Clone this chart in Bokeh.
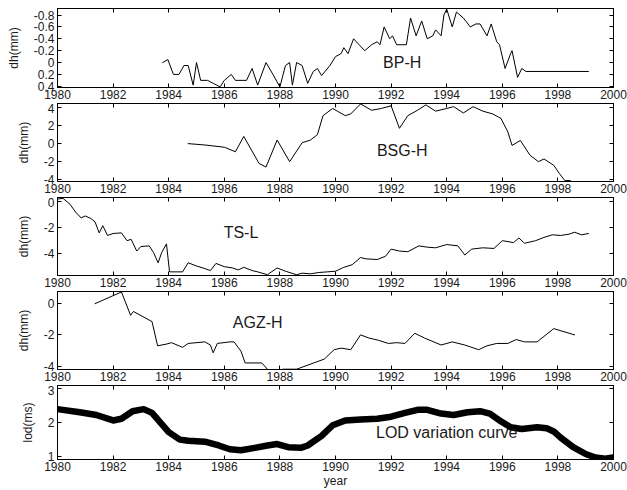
from bokeh.plotting import figure
from bokeh.layouts import column
from bokeh.models import Range1d, FixedTicker, LinearAxis, Label
from bokeh.embed import file_html
from bokeh.resources import INLINE

FONT = "Liberation Sans"

# ---------------- data ----------------
x_ticks = [1980, 1982, 1984, 1986, 1988, 1990, 1992, 1994, 1996, 1998, 2000]
x_tick_labels = ["1980", "1982", "1984", "1986", "1988", "1990", "1992", "1994", "1996", "1998", "2000"]

bp_year = [1983.78, 1983.97, 1984.17, 1984.37, 1984.55, 1984.7, 1984.88, 1985.0, 1985.15, 1985.4,
           1985.6, 1985.85, 1986.0, 1986.25, 1986.4, 1986.8, 1987.0, 1987.2, 1987.5, 1987.75,
           1988.0, 1988.2, 1988.35, 1988.45, 1988.6, 1988.8, 1989.0, 1989.2, 1989.35, 1989.5,
           1989.8, 1990.0, 1990.2, 1990.3, 1990.45, 1990.65, 1990.85, 1991.05, 1991.3, 1991.5,
           1991.6, 1991.75, 1991.95, 1992.05, 1992.2, 1992.55, 1992.7, 1992.9, 1993.1, 1993.3,
           1993.5, 1993.6, 1993.8, 1993.9, 1994.0, 1994.2, 1994.35, 1994.6, 1994.85, 1995.05,
           1995.2, 1995.45, 1995.6, 1995.8, 1995.9, 1996.1, 1996.3, 1996.35, 1996.55, 1996.7,
           1996.85, 1999.1]
bp_dh = [0.0, -0.05, 0.2, 0.2, 0.05, 0.05, 0.38, 0.0, 0.3, 0.3,
         0.35, 0.41, 0.3, 0.2, 0.3, 0.3, 0.1, 0.38, 0.0, 0.2,
         0.41, 0.05, 0.0, 0.38, 0.0, 0.05, 0.35, 0.15, 0.1, 0.22,
         0.05, -0.1, -0.15, -0.25, -0.15, -0.4, -0.3, -0.2, -0.3, -0.35,
         -0.3, -0.6, -0.4, -0.45, -0.3, -0.3, -0.75, -0.45, -0.7, -0.4,
         -0.45, -0.55, -0.45, -0.8, -0.9, -0.6, -0.85, -0.75, -0.6, -0.65,
         -0.65, -0.45, -0.65, -0.35, -0.3, 0.1, -0.15, -0.2, 0.25, 0.1,
         0.15, 0.15]
bp_ticks = [-0.8, -0.6, -0.4, -0.2, 0, 0.2, 0.4]
bp_tick_labels = ["-0.8", "-0.6", "-0.4", "-0.2", "0", "0.2", "0.4"]

bsg_year = [1984.7, 1985.3, 1986.0, 1986.4, 1986.7, 1987.25, 1987.5, 1987.9, 1988.35, 1988.8,
            1989.1, 1989.35, 1989.55, 1989.9, 1990.35, 1990.55, 1990.9, 1991.3, 1991.65, 1992.0,
            1992.3, 1992.6, 1992.95, 1993.25, 1993.6, 1994.0, 1994.25, 1994.6, 1994.95, 1995.3,
            1995.65, 1995.95, 1996.2, 1996.35, 1996.65, 1997.0, 1997.3, 1997.5, 1997.85, 1998.05,
            1998.25, 1998.45]
bsg_dh = [0.0, -0.15, -0.4, -0.9, 0.8, -2.2, -2.6, 0.4, -2.0, 0.1,
          0.4, 1.0, 3.1, 3.9, 3.1, 3.3, 4.4, 3.7, 3.9, 4.2,
          1.7, 3.1, 3.7, 4.3, 3.6, 3.9, 4.1, 3.4, 4.1, 3.6,
          3.3, 2.8, 1.3, -0.2, 0.35, -1.3, -2.0, -1.7, -2.4, -3.3,
          -4.1, -4.1]
bsg_ticks = [-4, -2, 0, 2, 4]
bsg_tick_labels = ["-4", "-2", "0", "2", "4"]

ts_year = [1980.0, 1980.2, 1980.45, 1980.65, 1980.85, 1981.0, 1981.2, 1981.35, 1981.5, 1981.63,
           1981.8, 1982.0, 1982.3, 1982.5, 1982.65, 1982.85, 1983.0, 1983.3, 1983.45, 1983.62,
           1983.75, 1983.92, 1984.03, 1984.5, 1984.7, 1985.0, 1985.3, 1985.5, 1985.7, 1986.0,
           1986.3, 1986.5, 1986.7, 1987.0, 1987.2, 1987.55, 1987.9, 1988.2, 1988.6, 1988.8,
           1989.1, 1989.4, 1989.7, 1990.0, 1990.3, 1990.6, 1990.9, 1991.1, 1991.5, 1991.8,
           1992.0, 1992.3, 1992.6, 1993.0, 1993.3, 1993.6, 1994.0, 1994.4, 1994.65, 1994.9,
           1995.3, 1995.7, 1996.0, 1996.4, 1996.6, 1996.8, 1997.2, 1997.5, 1997.8, 1998.1,
           1998.4, 1998.6, 1998.85, 1999.1]
ts_dh = [0.2, 0.25, -0.2, -0.8, -1.25, -1.1, -1.3, -1.55, -2.4, -1.85,
         -2.6, -2.45, -2.4, -3.0, -2.9, -3.8, -3.45, -3.4, -3.9, -4.7,
         -3.9, -3.25, -5.4, -5.4, -4.7, -4.95, -5.15, -5.3, -4.75, -5.0,
         -5.1, -5.25, -5.05, -5.3, -5.4, -5.62, -5.1, -5.35, -5.62, -5.5,
         -5.55, -5.45, -5.4, -5.35, -5.05, -4.85, -4.3, -4.4, -4.45, -4.2,
         -3.65, -3.8, -3.85, -3.4, -3.5, -3.55, -3.3, -3.4, -4.1, -3.65,
         -3.55, -3.6, -3.0, -3.15, -2.8, -3.2, -3.0, -2.75, -2.55, -2.6,
         -2.5, -2.35, -2.55, -2.45]
ts_ticks = [-4, -2, 0]
ts_tick_labels = ["-4", "-2", "0"]

agz_year = [1981.35, 1982.3, 1982.63, 1982.73, 1983.4, 1983.6, 1983.9, 1984.1, 1984.5, 1984.7,
            1985.3, 1985.5, 1985.6, 1985.75, 1986.2, 1986.35, 1986.6, 1986.75, 1987.35, 1987.55,
            1987.65, 1988.05, 1988.1, 1988.6, 1989.6, 1989.95, 1990.2, 1990.55, 1990.9, 1991.2,
            1991.55, 1991.9, 1992.2, 1992.5, 1992.85, 1993.2, 1993.8, 1994.2, 1994.65, 1995.15,
            1995.45, 1995.8, 1996.2, 1996.5, 1996.8, 1997.25, 1997.85, 1998.6]
agz_dh = [0.0, 0.75, -0.75, -0.5, -1.15, -2.7, -2.6, -2.5, -2.8, -2.55,
          -2.45, -2.65, -3.15, -2.55, -2.45, -2.45, -3.05, -3.8, -3.8, -4.2,
          -4.35, -4.35, -4.2, -4.2, -3.55, -2.95, -2.85, -2.95, -2.0, -2.2,
          -2.35, -2.55, -2.5, -2.55, -1.9, -2.2, -2.65, -2.45, -2.65, -2.95,
          -2.7, -2.55, -2.55, -2.3, -2.45, -2.45, -1.6, -2.0]
agz_ticks = [-4, -2, 0]
agz_tick_labels = ["-4", "-2", "0"]

lod_year = [1980.0, 1980.8, 1981.4, 1982.0, 1982.3, 1982.7, 1983.1, 1983.4, 1984.0, 1984.4,
            1984.7, 1985.3, 1985.8, 1986.2, 1986.6, 1987.1, 1987.55, 1987.9, 1988.3, 1988.75,
            1989.0, 1989.5, 1989.9, 1990.35, 1990.9, 1991.5, 1992.0, 1992.5, 1992.95, 1993.3,
            1993.8, 1994.25, 1994.75, 1995.2, 1995.55, 1995.9, 1996.3, 1996.7, 1997.25, 1997.6,
            1997.85, 1998.1, 1998.55, 1999.0, 1999.35, 1999.7, 2000.0]
lod_ms = [2.39, 2.3, 2.22, 2.06, 2.11, 2.33, 2.39, 2.28, 1.72, 1.5,
          1.47, 1.44, 1.33, 1.22, 1.19, 1.26, 1.33, 1.37, 1.28, 1.26,
          1.33, 1.61, 1.92, 2.06, 2.09, 2.11, 2.17, 2.28, 2.37, 2.37,
          2.26, 2.22, 2.3, 2.33, 2.26, 2.06, 1.86, 1.81, 1.86, 1.83,
          1.74, 1.56, 1.28, 1.08, 0.98, 0.94, 0.98]
lod_ticks = [1, 2, 3]
lod_tick_labels = ["1", "2", "3"]

TXT = "#1a1a1a"


def style_axis(ax, ticks, labels, show_labels=True):
    ax.ticker = FixedTicker(ticks=ticks)
    ax.major_tick_in = 4
    ax.major_tick_out = 0
    ax.minor_tick_line_color = None
    ax.axis_line_color = "black"
    ax.major_tick_line_color = "black"
    if show_labels:
        ax.major_label_overrides = {t: l for t, l in zip(ticks, labels)}
        ax.major_label_text_font = FONT
        ax.major_label_text_font_size = "12px"
        ax.major_label_text_color = TXT
        ax.major_label_standoff = 2
    else:
        ax.major_label_overrides = {t: "" for t in ticks}
        ax.major_label_text_font_size = "0px"
        ax.major_label_standoff = 0


def panel(h, top, bottom, xs, ys, y0, y1, yticks, ylabels, ylab, ann, ax_, ay_, lw=1, xlab=None):
    p = figure(width=627, height=h, x_range=Range1d(1980, 2000), y_range=Range1d(y0, y1),
               output_backend="svg", toolbar_location=None,
               min_border_left=57, min_border_right=14,
               min_border_top=top, min_border_bottom=bottom)
    p.grid.visible = False
    p.outline_line_color = "black"
    p.background_fill_color = "white"
    p.border_fill_color = "white"
    p.line(xs, ys, line_color="black", line_width=lw, line_join="round", line_cap="round")

    style_axis(p.xaxis[0], x_ticks, x_tick_labels)
    style_axis(p.yaxis[0], yticks, ylabels)
    p.yaxis[0].axis_label = ylab
    p.yaxis[0].axis_label_text_font = FONT
    p.yaxis[0].axis_label_text_font_size = "12px"
    p.yaxis[0].axis_label_text_font_style = "normal"
    p.yaxis[0].axis_label_text_color = TXT
    p.yaxis[0].axis_label_standoff = 10
    p.yaxis[0].major_label_standoff = 3
    if xlab:
        p.xaxis[0].axis_label = xlab
        p.xaxis[0].axis_label_text_font = FONT
        p.xaxis[0].axis_label_text_font_size = "12px"
        p.xaxis[0].axis_label_text_font_style = "normal"
        p.xaxis[0].axis_label_text_color = TXT
        p.xaxis[0].axis_label_standoff = 0

    top_ax = LinearAxis()
    style_axis(top_ax, x_ticks, x_tick_labels, show_labels=False)
    p.add_layout(top_ax, "above")
    right_ax = LinearAxis()
    style_axis(right_ax, yticks, ylabels, show_labels=False)
    p.add_layout(right_ax, "right")

    p.add_layout(Label(x=ax_, y=ay_, text=ann, text_font=FONT, text_font_size="16px",
                       text_color=TXT, text_align="center", text_baseline="middle"))
    return p


p1 = panel(103, 8, 16, bp_year, bp_dh, 0.42, -0.91, bp_ticks, bp_tick_labels, "dh(mm)", "BP-H", 1992.4, 0.0)
p2 = panel(94, 0, 16, bsg_year, bsg_dh, -4.2, 4.45, bsg_ticks, bsg_tick_labels, "dh(mm)", "BSG-H", 1992.4, -0.8)
p3 = panel(94, 0, 16, ts_year, ts_dh, -5.68, 0.32, ts_ticks, ts_tick_labels, "dh(mm)", "TS-L", 1986.6, -2.4)
p4 = panel(94, 0, 16, agz_year, agz_dh, -4.22, 0.78, agz_ticks, agz_tick_labels, "dh(mm)", "AGZ-H", 1987.2, -1.2)
p5 = panel(105, 0, 29, lod_year, lod_ms, 0.92, 3.08, lod_ticks, lod_tick_labels, "lod(ms)",
           "LOD variation curve", 1994.0, 1.72, lw=6.5, xlab="year")

layout = column(p1, p2, p3, p4, p5, spacing=0)
open("out.html", "w").write(file_html(layout, INLINE))
